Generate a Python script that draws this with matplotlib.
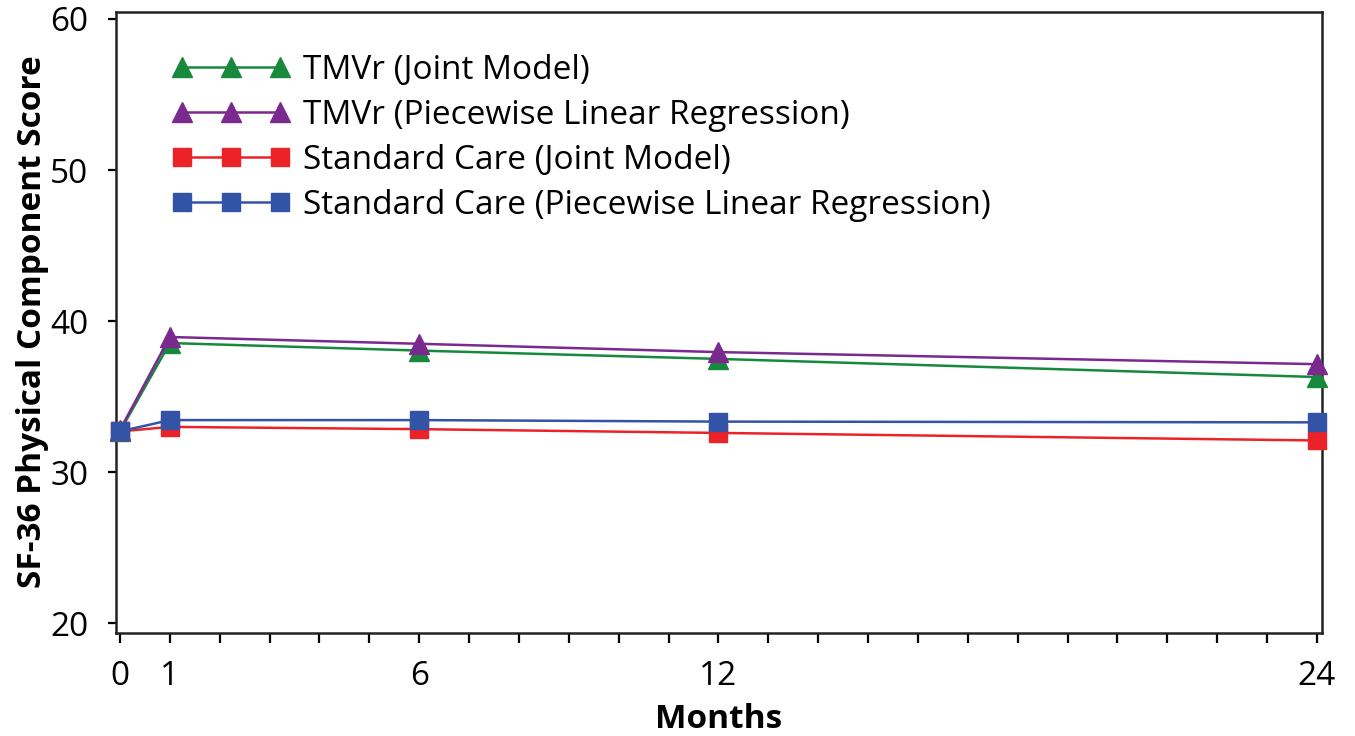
"""SF-36 physical component score over time, TMVr vs standard care."""
import matplotlib

matplotlib.use("Agg")
import matplotlib.pyplot as plt
from matplotlib.ticker import FixedLocator, FuncFormatter

plt.rcParams["font.family"] = ["Open Sans", "DejaVu Sans"]

months = [0, 1, 6, 12, 24]
labelled_months = [0, 1, 6, 12, 24]

tmvr_joint = [32.7, 38.55, 38.05, 37.5, 36.3]
tmvr_piecewise = [32.8, 38.95, 38.5, 37.95, 37.15]
sc_joint = [32.7, 33.0, 32.85, 32.6, 32.1]
sc_piecewise = [32.7, 33.45, 33.45, 33.35, 33.3]

series = [
    ("TMVr (Joint Model)", tmvr_joint, "#17893d", "^"),
    ("TMVr (Piecewise Linear Regression)", tmvr_piecewise, "#7a2a8e", "^"),
    ("Standard Care (Joint Model)", sc_joint, "#ec2229", "s"),
    ("Standard Care (Piecewise Linear Regression)", sc_piecewise, "#3253a6", "s"),
]

fig = plt.figure(figsize=(13.55, 7.36), dpi=100)
ax = fig.add_axes([0.0856, 0.1404, 0.89, 0.8437])

for label, values, color, marker in series:
    ax.plot(
        months,
        values,
        color=color,
        marker=marker,
        markersize=14 if marker == "^" else 13,
        linewidth=1.8,
        label=label,
        clip_on=False,
        zorder=3,
    )

ax.set_xlim(-0.08, 24.1)
ax.set_ylim(19.38, 60.48)
ax.set_yticks([20, 30, 40, 50, 60])
ax.xaxis.set_major_locator(FixedLocator(range(0, 25)))
ax.xaxis.set_major_formatter(
    FuncFormatter(lambda v, pos: f"{int(v)}" if int(v) in labelled_months else "")
)

for side in ax.spines.values():
    side.set_linewidth(1.8)
    side.set_color("#222222")

ax.tick_params(axis="x", direction="out", length=7, width=1.6, labelsize=24, pad=13)
ax.tick_params(axis="y", direction="out", length=6, width=1.6, labelsize=24, pad=14)

ax.set_xlabel("Months", fontsize=24, fontweight="bold", labelpad=7)
ax.set_ylabel("SF-36 Physical Component Score", fontsize=24, fontweight="bold", labelpad=1)

ax.legend(
    loc="upper left",
    bbox_to_anchor=(172 / 1355, 1 - 54 / 736),
    bbox_transform=fig.transFigure,
    frameon=False,
    fontsize=24,
    numpoints=3,
    handlelength=3.55,
    handletextpad=0.38,
    labelspacing=0.36,
    borderpad=0,
    borderaxespad=0,
)

fig.savefig("out.png", dpi=100)
